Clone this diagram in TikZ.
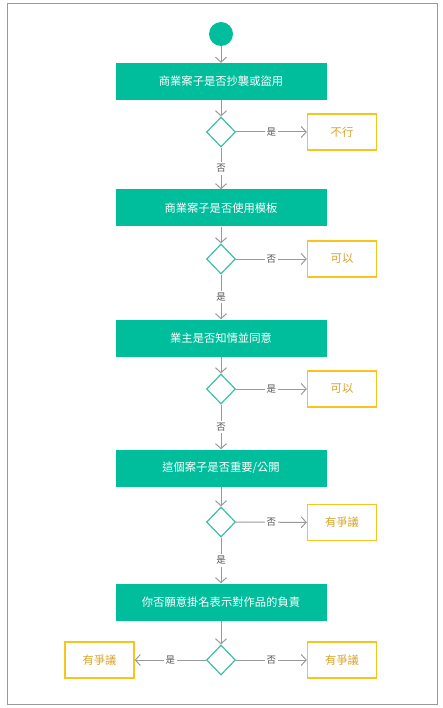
\documentclass[tikz,border=0pt]{standalone}
\usepackage{fontspec}
\setmainfont{Noto Sans CJK TC}
\usetikzlibrary{arrows.meta,shapes.geometric}
\definecolor{tgreen}{HTML}{00BE9C}
\definecolor{tteal}{HTML}{3DBFA5}
\definecolor{tyellow}{HTML}{F7C51E}
\definecolor{tytext}{HTML}{D9A42C}
\definecolor{tgray}{HTML}{9A9A9A}
\definecolor{tlabel}{HTML}{555555}
\begin{document}
\begin{tikzpicture}[x=1pt,y=-1pt,
  actbox/.style={fill=tgreen,draw=none,minimum width=211pt,minimum height=37pt,inner sep=0pt,text=white,font=\fontsize{11.3}{13}\selectfont},
  decbox/.style={diamond,draw=tteal,line width=1.2pt,fill=white,minimum width=29pt,minimum height=30pt,inner sep=0pt},
  endbox/.style={draw=tyellow,line width=1.3pt,fill=white,minimum width=69pt,minimum height=36pt,inner sep=0pt,text=tytext,font=\fontsize{11.3}{13}\selectfont},
  flow/.style={draw=tgray,line width=1pt,-{Straight Barb[length=5pt,width=11pt,line width=1pt]}},
  lbl/.style={fill=white,text=tlabel,inner sep=2pt,font=\fontsize{9.5}{11}\selectfont}]
\useasboundingbox (0,0) rectangle (443,708);
\draw[tgray,line width=1pt] (7,4) rectangle (437,704);
\node[circle,fill=tgreen,minimum size=24pt,inner sep=0pt] (start) at (221,34) {};
\node[actbox] (a1) at (221,81.5) {商業案子是否抄襲或盜用};
\node[decbox] (d1) at (221,132) {};
\node[endbox] (e1) at (342,132) {不行};
\node[actbox] (a2) at (221,208) {商業案子是否使用模板};
\node[decbox] (d2) at (221,259) {};
\node[endbox] (e2) at (342,259) {可以};
\node[actbox] (a3) at (221,338) {業主是否知情並同意};
\node[decbox] (d3) at (221,389) {};
\node[endbox] (e3) at (342,389) {可以};
\node[actbox] (a4) at (221,468) {這個案子是否重要/公開};
\node[decbox] (d4) at (221,522) {};
\node[endbox] (e4) at (342,522.5) {有爭議};
\node[actbox] (a5) at (221,602) {你否願意掛名表示對作品的負責};
\node[decbox] (d5) at (221,660) {};
\node[endbox] (e5) at (342,660) {有爭議};
\node[endbox] (e6) at (99.5,660) {有爭議};
\draw[flow] (start) -- (a1);
\draw[flow] (a1) -- (d1);
\draw[flow] (d1) -- node[lbl] {是} (e1);
\draw[flow] (d1) -- node[lbl] {否} (a2);
\draw[flow] (a2) -- (d2);
\draw[flow] (d2) -- node[lbl] {否} (e2);
\draw[flow] (d2) -- node[lbl] {是} (a3);
\draw[flow] (a3) -- (d3);
\draw[flow] (d3) -- node[lbl] {是} (e3);
\draw[flow] (d3) -- node[lbl] {否} (a4);
\draw[flow] (a4) -- (d4);
\draw[flow] (d4) -- node[lbl] {否} (e4);
\draw[flow] (d4) -- node[lbl] {是} (a5);
\draw[flow] (a5) -- (d5);
\draw[flow] (d5) -- node[lbl] {否} (e5);
\draw[flow] (d5) -- node[lbl] {是} (e6);
\end{tikzpicture}
\end{document}
